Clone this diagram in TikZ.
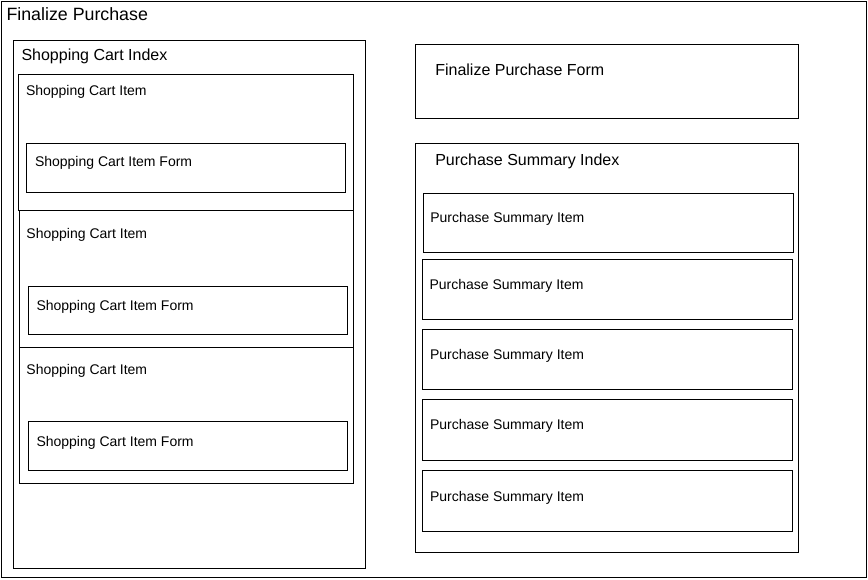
\documentclass[tikz,border=0pt]{standalone}
\usepackage{fontspec}
\setmainfont{Liberation Sans}
\tikzset{
  box/.style={draw=black, line width=1pt, inner sep=0pt, outer sep=0pt, anchor=north west, fill=none},
  lbl/.style={inner sep=0pt, outer sep=0pt, anchor=base west, text=black},
  big/.style={lbl, font=\fontsize{16}{19}\selectfont},
  ttl/.style={lbl, font=\fontsize{17.8}{20}\selectfont},
  small/.style={lbl, font=\fontsize{14}{17}\selectfont},
}
\begin{document}
\begin{tikzpicture}[x=1pt,y=-1pt]
\useasboundingbox (0,0) rectangle (868,579);
% outer
\node[box, minimum width=865pt, minimum height=576pt] (outer) at (1.5,1.5) {};
\node[ttl] (outerT) at (6.5,20.5) {Finalize Purchase};
% shopping cart index
\node[box, minimum width=352pt, minimum height=528pt] (sci) at (13.5,40) {};
\node[big] (sciT) at (21.5,60) {Shopping Cart Index};
% items
\node[box, minimum width=335pt, minimum height=136pt] (item1) at (18.5,74.5) {};
\node[box, minimum width=334pt, minimum height=137pt] (item2) at (19.5,210.5) {};
\node[box, minimum width=334pt, minimum height=136pt] (item3) at (19.5,347.5) {};
\node[small] (item1T) at (26,95.5) {Shopping Cart Item};
\node[small] (item2T) at (26.5,238.3) {Shopping Cart Item};
\node[small] (item3T) at (26.5,374) {Shopping Cart Item};
% forms
\node[box, minimum width=319pt, minimum height=49pt] (form1) at (26.5,143) {};
\node[box, minimum width=319pt, minimum height=48pt] (form2) at (28.5,286) {};
\node[box, minimum width=319pt, minimum height=49pt] (form3) at (28.5,421.5) {};
\node[small] (form1T) at (35,166.7) {Shopping Cart Item Form};
\node[small] (form2T) at (36.5,310) {Shopping Cart Item Form};
\node[small] (form3T) at (36.5,446) {Shopping Cart Item Form};
% finalize purchase form
\node[box, minimum width=383pt, minimum height=74pt] (fpf) at (415.5,44.5) {};
\node[big] (fpfT) at (435.3,75) {Finalize Purchase Form};
% purchase summary index
\node[box, minimum width=383pt, minimum height=409pt] (psi) at (415.5,143) {};
\node[big] (psiT) at (435.3,165) {Purchase Summary Index};
\node[box, minimum width=370pt, minimum height=59pt] (p1) at (423.5,193) {};
\node[box, minimum width=370pt, minimum height=60pt] (p2) at (422.5,259.5) {};
\node[box, minimum width=370pt, minimum height=60pt] (p3) at (422.5,329.5) {};
\node[box, minimum width=370pt, minimum height=61pt] (p4) at (422.5,399.5) {};
\node[box, minimum width=370pt, minimum height=61pt] (p5) at (422.5,470.5) {};
\node[small] (p1T) at (430.3,222.3) {Purchase Summary Item};
\node[small] (p2T) at (429.5,289.3) {Purchase Summary Item};
\node[small] (p3T) at (430,359.3) {Purchase Summary Item};
\node[small] (p4T) at (430,429.3) {Purchase Summary Item};
\node[small] (p5T) at (430,501) {Purchase Summary Item};
\end{tikzpicture}
\end{document}
